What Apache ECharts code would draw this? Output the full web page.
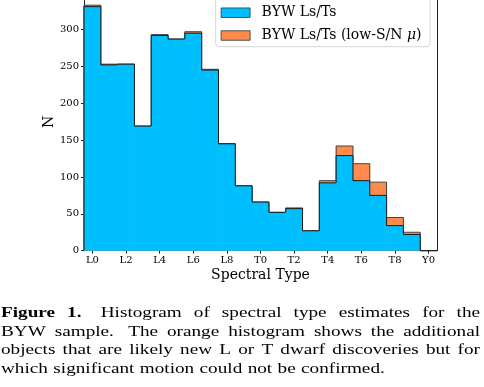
<!DOCTYPE html>
<html>
<head>
<meta charset="utf-8">
<script src="https://cdn.jsdelivr.net/npm/echarts@6/dist/echarts.min.js"></script>
<style>
html,body{margin:0;padding:0;background:#fff;}
#chart{width:484px;height:387px;}
</style>
</head>
<body>
<div id="chart"></div>
<script>
// Spectral type bins (category axis)
var categories = ['L0','L1','L2','L3','L4','L5','L6','L7','L8','L9',
                  'T0','T1','T2','T3','T4','T5','T6','T7','T8','T9','Y0'];
// BYW Ls/Ts counts per bin
var bywCounts = [331,252,253,169,292,287,295,245,145,88,
                 66,52,57,27,92,129,95,75,34,22,0];
// additional low-S/N mu objects per bin (stacked on top)
var lowSNCounts = [2,1,0,0,1,0,2,1,0,0,
                   0,0,1,0,3,13,23,18,11,3,0];
var yTicks = [0,50,100,150,200,250,300];

var seriesNames = ['BYW Ls/Ts', 'BYW Ls/Ts (low-S/N \u03bc)'];
var totalCounts = bywCounts.map(function(v, i){ return v + lowSNCounts[i]; });

var BLUE = '#00BFFF', ORANGE = '#FF8A4C', EDGE = '#1a1a1a';
var SERIF = "'DejaVu Serif', serif";

function stepRender(vals, fill, edge) {
  return function(params, api) {
    var i = params.dataIndex;
    var v = api.value(1);
    var prev = i > 0 ? vals[i - 1] : 0;
    var top = api.coord([i, v]);
    var base = api.coord([i, 0]);
    var prevTop = api.coord([i, prev]);
    var w = api.size([1, 0])[0];
    var xl = top[0] - w / 2, xr = top[0] + w / 2;
    var children = [];
    if (v > 0) {
      children.push({type:'rect', shape:{x:xl - 0.3, y:top[1], width:w + 0.6, height:base[1] - top[1]},
                     style:{fill:fill, stroke:null}});
    }
    var pts = [[xl, prevTop[1]], [xl, top[1]], [xr, top[1]]];
    if (i === vals.length - 1) pts.push([xr, base[1]]);
    children.push({type:'polyline', shape:{points:pts}, style:{stroke:edge, lineWidth:1, fill:null}});
    return {type:'group', children:children};
  };
}

var chart = echarts.init(document.getElementById('chart'), null, {renderer:'canvas'});

// Caption (justified lines)
var CAP_FONT = 15, CAP_SX = 1.28, CAP_FAMILY = "'Liberation Serif', serif";
var capLines = [
  {words:[['Figure',1],['1.',1],['Histogram',0],['of',0],['spectral',0],['type',0],['estimates',0],['for',0],['the',0]], justify:true, wide:[1]},
  {words:[['BYW',0],['sample.',0],['The',0],['orange',0],['histogram',0],['shows',0],['the',0],['additional',0]], justify:true, wide:[1]},
  {words:[['objects',0],['that',0],['are',0],['likely',0],['new',0],['L',0],['or',0],['T',0],['dwarf',0],['discoveries',0],['but',0],['for',0]], justify:true, wide:[]},
  {words:[['which',0],['significant',0],['motion',0],['could',0],['not',0],['be',0],['confirmed.',0]], justify:false, wide:[]}
];
var capBaselines = [318, 336.7, 355.3, 374];
var capLeft = 1, capRight = 480;
var ctx = document.createElement('canvas').getContext('2d');
function fontStr(b){ return (b ? 'bold ' : '') + CAP_FONT + 'px ' + CAP_FAMILY; }
var graphics = [
  {type:'rect', silent:true, z:50, shape:{x:215.7, y:-6, width:214.3, height:52.7, r:3},
   style:{fill:'rgba(255,255,255,0.85)', stroke:'#d6d6d6', lineWidth:1}}
];
capLines.forEach(function(line, li){
  var widths = line.words.map(function(w){ ctx.font = fontStr(w[1]); return ctx.measureText(w[0]).width * CAP_SX; });
  var total = widths.reduce(function(a,b){return a+b;}, 0);
  var n = line.words.length;
  var weights = [];
  for (var k = 0; k < n - 1; k++) weights.push(line.wide.indexOf(k) >= 0 ? 1.6 : 1);
  var wsum = weights.reduce(function(a,b){return a+b;}, 0);
  var unit = line.justify ? (capRight - capLeft - total) / wsum : CAP_FONT * 0.36;
  var x = capLeft;
  line.words.forEach(function(w, k){
    graphics.push({type:'text', x:x, y:capBaselines[li] - 0.34 * CAP_FONT, scaleX:CAP_SX, silent:true,
      style:{text:w[0], fontFamily:CAP_FAMILY, fontSize:CAP_FONT, fontWeight:w[1] ? 'bold' : 'normal',
             fill:'#000', align:'left', verticalAlign:'middle'}});
    x += widths[k] + (k < n - 1 ? unit * weights[k] : 0);
  });
});

var option = {
  animation:false,
  backgroundColor:'#fff',
  grid:{left:84, right:47, top:0, bottom:136.3, show:false},
  legend:{
    data:seriesNames,
    orient:'vertical',
    left:220.7, top:0, z:60,
    padding:[5.7, 0, 0, 0],
    itemWidth:29, itemHeight:9.5, itemGap:8.8,
    icon:'rect',
    itemStyle:{borderColor:'#333', borderWidth:0.8},
    formatter:function(name){ return name.replace('\u03bc', '{i|\u03bc}'); },
    textStyle:{fontFamily:SERIF, fontSize:14, color:'#000', lineHeight:12, padding:[0,0,0,6.5],
      rich:{i:{fontFamily:SERIF, fontStyle:'italic', fontSize:14, color:'#000', lineHeight:12}}}
  },
  xAxis:{
    type:'category', data:categories, boundaryGap:true,
    name:'Spectral Type', nameLocation:'middle', nameGap:18, nameMoveOverlap:false,
    nameTextStyle:{fontFamily:SERIF, fontSize:14, color:'#000'},
    axisLine:{show:true, lineStyle:{color:'#222', width:1}},
    axisTick:{show:true, alignWithLabel:true, interval:1, length:3, lineStyle:{color:'#222'}},
    axisLabel:{interval:1, margin:5, fontFamily:SERIF, fontSize:10, color:'#000'},
    splitLine:{show:false}
  },
  yAxis:[{
    type:'value', min:0, max:340, interval:50,
    name:'N', nameLocation:'middle', nameGap:27.5, nameRotate:90, nameMoveOverlap:false,
    nameTextStyle:{fontFamily:SERIF, fontSize:14, color:'#000', padding:[0,0,0,7]},
    axisLine:{show:true, lineStyle:{color:'#222', width:1}},
    axisTick:{show:true, length:3, lineStyle:{color:'#222'}, customValues:yTicks},
    axisLabel:{margin:5, fontFamily:SERIF, fontSize:10, color:'#000', customValues:yTicks},
    splitLine:{show:false}
  },{
    type:'value', min:0, max:340, position:'right',
    axisLine:{show:true, onZero:false, lineStyle:{color:'#222', width:1}},
    axisTick:{show:false}, axisLabel:{show:false}, splitLine:{show:false}
  }],
  series:[
    {
      name:seriesNames[1], type:'custom', z:2,
      itemStyle:{color:ORANGE},
      renderItem:stepRender(totalCounts, ORANGE, '#444'),
      data:totalCounts.map(function(v, i){ return [i, v]; })
    },
    {
      name:seriesNames[0], type:'custom', z:3,
      itemStyle:{color:BLUE},
      renderItem:stepRender(bywCounts, BLUE, EDGE),
      data:bywCounts.map(function(v, i){ return [i, v]; })
    }
  ],
  graphic:graphics
};
chart.setOption(option);
</script>
</body>
</html>
